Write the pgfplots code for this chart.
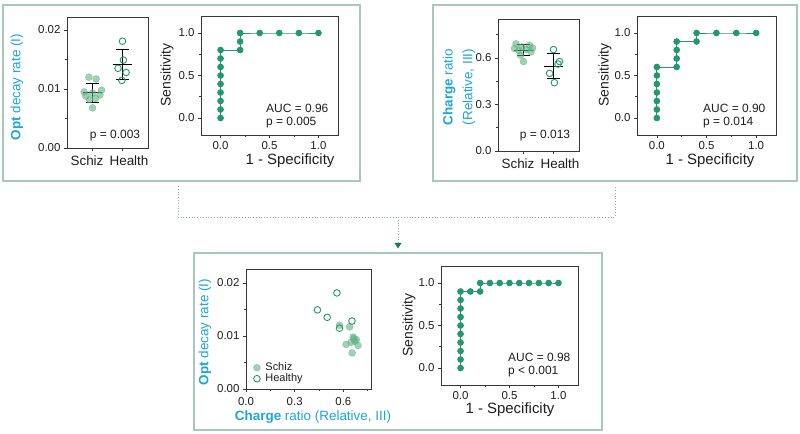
\documentclass[border=0pt]{standalone}
\usepackage{fontspec}
\setmainfont{Liberation Sans}
\usepackage{pgfplots}
\pgfplotsset{compat=1.18}
\usetikzlibrary{arrows.meta}
\definecolor{rocg}{RGB}{35,152,108}
\definecolor{schf}{RGB}{95,178,132}
\definecolor{cyanl}{RGB}{30,165,218}
\definecolor{boxc}{RGB}{168,200,188}
\definecolor{lnc}{RGB}{140,170,160}
\definecolor{axc}{RGB}{55,55,55}
\definecolor{txc}{RGB}{30,30,30}
\pgfplotsset{
  base/.style={scale only axis, axis line style={axc, line width=0.6bp},
    every tick/.style={axc, line width=0.5bp}, tick align=outside,
    xtick pos=bottom, ytick pos=left, major tick length=3bp, minor tick length=2bp,
    tick label style={font=\fontsize{11.5}{12}\selectfont, text=txc},
    /pgf/number format/assume math mode=true, scaled ticks=false, clip=false},
  p1x/.style={xticklabel style={/pgf/number format/fixed, /pgf/number format/fixed zerofill, /pgf/number format/precision=1}},
  p1y/.style={yticklabel style={/pgf/number format/fixed, /pgf/number format/fixed zerofill, /pgf/number format/precision=1}},
  p2y/.style={yticklabel style={/pgf/number format/fixed, /pgf/number format/fixed zerofill, /pgf/number format/precision=2}},
  roc/.style={base, p1x, p1y, xmin=-0.2, xmax=1.2, ymin=-0.2, ymax=1.2,
    xtick={0,0.5,1}, ytick={0,0.5,1}, minor xtick={0.25,0.75}, minor ytick={0.25,0.75}},
  rocline/.style={rocg, line width=0.8bp, mark=*, mark size=2.9bp, mark options={fill=rocg, draw=rocg}},
  cat/.style={base, xmin=0.15, xmax=2.85, xtick={1,2}, xticklabels={,}},
  sch/.style={only marks, color=schf, mark=*, mark size=3.5bp, mark options={draw=schf, fill=schf, opacity=0.6}},
  hea/.style={only marks, color=rocg, mark=o, mark size=3.3bp, mark options={draw=rocg, line width=0.9bp, fill=none}},
  bar/.style={black, line width=0.9bp},
}
\newcommand{\lab}{\fontsize{13.5}{15}\selectfont\color{cyanl}}
\newcommand{\catf}{\fontsize{13.5}{15}\selectfont}
\begin{document}
\begin{tikzpicture}
\useasboundingbox (0,0) rectangle (800bp,434bp);
% panel boxes
\draw[boxc, line width=1.2bp] (3bp,253bp) rectangle (360bp,429bp);
\draw[boxc, line width=1.2bp] (433bp,253bp) rectangle (797bp,429bp);
\draw[boxc, line width=1.2bp] (194bp,4bp) rectangle (602bp,181bp);
% connectors
\draw[lnc, line width=0.8bp, dotted] (178bp,248bp) -- (178bp,217bp) -- (615bp,217bp) -- (615bp,248bp);
\draw[lnc, line width=0.8bp, dotted] (398bp,217bp) -- (398bp,190bp);
\fill[rocg!80!black] (394.5bp,191bp) -- (401.5bp,191bp) -- (398bp,185.5bp) -- cycle;

% ---------- top-left scatter
\begin{axis}[cat, at={(67bp,286bp)}, anchor=south west, width=81bp, height=131bp,
  ymin=0, ymax=0.0222, ytick={0,0.01,0.02}, minor ytick={0.005,0.015}, p2y]
\addplot[sch] coordinates {(0.88,0.0120) (1.12,0.0117) (1.3,0.0098) (0.72,0.0095) (1.0,0.0093)
  (1.25,0.0090) (0.78,0.0088) (1.1,0.0084) (0.9,0.0082) (1.0,0.0068)};
\addplot[hea] coordinates {(2.0,0.0181) (2.03,0.0149) (1.85,0.0135) (2.12,0.0128) (1.98,0.01145)};
\addplot[bar] coordinates {(0.67,0.00935) (1.33,0.00935)};
\addplot[bar] coordinates {(1,0.0078) (1,0.0109)};
\addplot[bar] coordinates {(0.77,0.0078) (1.23,0.0078)};
\addplot[bar] coordinates {(0.77,0.0109) (1.23,0.0109)};
\addplot[bar] coordinates {(1.67,0.01415) (2.33,0.01415)};
\addplot[bar] coordinates {(2,0.0116) (2,0.0167)};
\addplot[bar] coordinates {(1.77,0.0116) (2.23,0.0116)};
\addplot[bar] coordinates {(1.77,0.0167) (2.23,0.0167)};
\end{axis}
\node[text=txc, font=\catf] at (87bp,273bp) {Schiz};
\node[text=txc, font=\catf] at (129bp,273bp) {Health};
\node[rotate=90, text=cyanl] at (17bp,347bp) {\lab\textbf{Opt} decay rate (I)};
\node[text=txc, font=\fontsize{12}{14}\selectfont] at (115bp,298bp) {p = 0.003};

% ---------- top-left ROC
\begin{axis}[roc, at={(201bp,299bp)}, anchor=south west, width=137bp, height=119bp]
\addplot[rocline] coordinates {(0,0) (0,0.1) (0,0.2) (0,0.3) (0,0.4) (0,0.5) (0,0.6) (0,0.7) (0,0.8)
  (0.2,0.8) (0.2,0.9) (0.2,1) (0.4,1) (0.6,1) (0.8,1) (1,1)};
\end{axis}
\node[rotate=90, text=txc, font=\fontsize{14}{16}\selectfont] at (167bp,359bp) {Sensitivity};
\node[text=txc, font=\fontsize{15}{17}\selectfont] at (290bp,273bp) {1 - Specificity};
\node[anchor=west, text=txc, font=\fontsize{12}{14}\selectfont, inner sep=0pt] at (266bp,326bp) {AUC = 0.96};
\node[anchor=west, text=txc, font=\fontsize{12}{14}\selectfont, inner sep=0pt] at (266bp,311bp) {p = 0.005};

% ---------- top-right scatter
\begin{axis}[cat, at={(498bp,283bp)}, anchor=south west, width=81bp, height=132bp,
  ymin=0, ymax=0.85, ytick={0,0.3,0.6}, minor ytick={0.15,0.45,0.75}, p1y]
\addplot[sch] coordinates {(0.75,0.690) (1.2,0.680) (0.95,0.670) (1.3,0.664) (0.7,0.660)
  (1.1,0.654) (0.85,0.648) (1.25,0.638) (0.9,0.617) (1.0,0.576)};
\addplot[hea] coordinates {(2.0,0.653) (2.2,0.576) (2.15,0.56) (1.87,0.50) (2.03,0.44)};
\addplot[bar] coordinates {(0.67,0.650) (1.33,0.650)};
\addplot[bar] coordinates {(1,0.617) (1,0.683)};
\addplot[bar] coordinates {(0.77,0.617) (1.23,0.617)};
\addplot[bar] coordinates {(0.77,0.683) (1.23,0.683)};
\addplot[bar] coordinates {(1.67,0.546) (2.33,0.546)};
\addplot[bar] coordinates {(2,0.466) (2,0.626)};
\addplot[bar] coordinates {(1.77,0.466) (2.23,0.466)};
\addplot[bar] coordinates {(1.77,0.626) (2.23,0.626)};
\end{axis}
\node[text=txc, font=\catf] at (518bp,270bp) {Schiz};
\node[text=txc, font=\catf] at (560bp,270bp) {Health};
\node[rotate=90, text=cyanl, align=center] at (459bp,347bp) {\lab\textbf{Charge} ratio\\[6bp]\lab(Relative, III)};
\node[text=txc, font=\fontsize{12}{14}\selectfont] at (545bp,298bp) {p = 0.013};

% ---------- top-right ROC
\begin{axis}[roc, at={(637bp,299bp)}, anchor=south west, width=139bp, height=119bp]
\addplot[rocline] coordinates {(0,0) (0,0.1) (0,0.2) (0,0.3) (0,0.4) (0,0.5) (0,0.6)
  (0.2,0.6) (0.2,0.7) (0.2,0.8) (0.2,0.9) (0.4,0.9) (0.4,1) (0.6,1) (0.8,1) (1,1)};
\end{axis}
\node[rotate=90, text=txc, font=\fontsize{14}{16}\selectfont] at (605bp,359bp) {Sensitivity};
\node[text=txc, font=\fontsize{15}{17}\selectfont] at (710bp,273bp) {1 - Specificity};
\node[anchor=west, text=txc, font=\fontsize{12}{14}\selectfont, inner sep=0pt] at (703bp,326bp) {AUC = 0.90};
\node[anchor=west, text=txc, font=\fontsize{12}{14}\selectfont, inner sep=0pt] at (703bp,311bp) {p = 0.014};

% ---------- bottom scatter
\begin{axis}[base, at={(246bp,45bp)}, anchor=south west, width=125bp, height=120bp,
  xmin=0, xmax=0.77, ymin=0, ymax=0.0226, xtick={0,0.3,0.6}, minor xtick={0.15,0.45,0.75},
  ytick={0,0.01,0.02}, minor ytick={0.005,0.015}, p1x, p2y,
  xticklabel style={yshift=-2bp},
  legend style={at={(0.05,0.02)}, anchor=south west, draw=none, fill=none,
    font=\fontsize{11}{12}\selectfont, text=txc, row sep=-2.5bp, column sep=3bp, inner sep=1bp},
  legend cell align=left]
\addplot[sch] coordinates {(0.576,0.0120) (0.638,0.0117) (0.617,0.0084) (0.664,0.0095) (0.680,0.0093)
  (0.690,0.0082) (0.654,0.0068) (0.648,0.0088) (0.660,0.0098) (0.670,0.0090)};
\addlegendentry{Schiz}
\addplot[hea] coordinates {(0.56,0.0181) (0.44,0.0149) (0.50,0.0135) (0.576,0.01145) (0.653,0.0128)};
\addlegendentry{Healthy}
\end{axis}
\node[rotate=90, text=cyanl] at (205bp,102bp) {\lab\textbf{Opt} decay rate (I)};
\node[text=cyanl] at (313bp,17bp) {\lab\textbf{Charge} ratio (Relative, III)};

% ---------- bottom ROC
\begin{axis}[roc, at={(441bp,49bp)}, anchor=south west, width=137bp, height=119bp]
\addplot[rocline] coordinates {(0,0) (0,0.1) (0,0.2) (0,0.3) (0,0.4) (0,0.5) (0,0.6) (0,0.7) (0,0.8) (0,0.9)
  (0.1,0.9) (0.2,0.9) (0.2,1) (0.3,1) (0.4,1) (0.5,1) (0.6,1) (0.7,1) (0.8,1) (0.9,1) (1,1)};
\end{axis}
\node[rotate=90, text=txc, font=\fontsize{14}{16}\selectfont] at (409bp,109bp) {Sensitivity};
\node[text=txc, font=\fontsize{15}{17}\selectfont] at (510bp,24bp) {1 - Specificity};
\node[anchor=west, text=txc, font=\fontsize{12}{14}\selectfont, inner sep=0pt] at (508bp,77bp) {AUC = 0.98};
\node[anchor=west, text=txc, font=\fontsize{12}{14}\selectfont, inner sep=0pt] at (508bp,62bp) {p < 0.001};
\end{tikzpicture}
\end{document}
